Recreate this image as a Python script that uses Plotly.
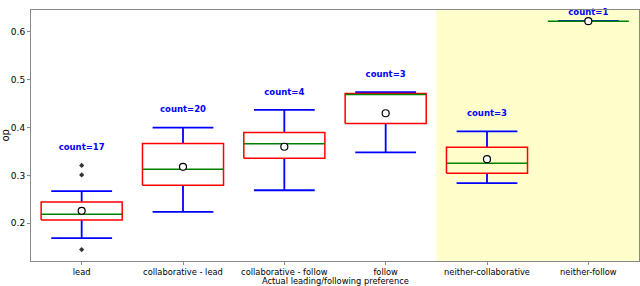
import plotly.graph_objects as go

categories = ["lead", "collaborative - lead", "collaborative - follow", "follow",
              "neither-collaborative", "neither-follow"]
counts = [17, 20, 4, 3, 3, 1]
q1 = [0.207, 0.2795, 0.336, 0.4085, 0.3046, 0.6226]
medians = [0.219, 0.313, 0.366, 0.469, 0.3255, 0.6226]
q3 = [0.2446, 0.3666, 0.390, 0.4715, 0.359, 0.6226]
whisker_low = [0.169, 0.2237, 0.269, 0.348, 0.284, 0.6226]
whisker_high = [0.267, 0.400, 0.437, 0.474, 0.392, 0.6226]
means = [0.226, 0.318, 0.360, 0.430, 0.334, 0.6226]
outlier_cat = [0, 0, 0]
outlier_val = [0.321, 0.301, 0.145]
label_y = [0.3575, 0.4364, 0.4726, 0.5096, 0.428, 0.639]

BOX_HALF = 0.4
CAP_HALF = 0.3
W, H = 640, 286
ML, MR, MT, MB = 31, 1, 10, 25

fig = go.Figure()

# shaded region for "neither" categories
fig.add_vrect(x0=3.5, x1=5.5, fillcolor="#FFFFCC", opacity=1, line_width=0, layer="below")

xs = list(range(len(categories)))

# whiskers (blue)
wx, wy = [], []
for i in xs:
    wx += [i, i, None, i - CAP_HALF, i + CAP_HALF, None,
           i, i, None, i - CAP_HALF, i + CAP_HALF, None]
    wy += [q3[i], whisker_high[i], None, whisker_high[i], whisker_high[i], None,
           q1[i], whisker_low[i], None, whisker_low[i], whisker_low[i], None]
fig.add_trace(go.Scatter(x=wx, y=wy, mode="lines",
                         line=dict(color="blue", width=1.8),
                         showlegend=False, hoverinfo="skip"))

# boxes (red rectangles from Q1 to Q3)
bx, by = [], []
for i in xs:
    if q3[i] > q1[i]:
        bx += [i - BOX_HALF, i + BOX_HALF, i + BOX_HALF, i - BOX_HALF, i - BOX_HALF, None]
        by += [q1[i], q1[i], q3[i], q3[i], q1[i], None]
fig.add_trace(go.Scatter(x=bx, y=by, mode="lines",
                         line=dict(color="red", width=1.5),
                         showlegend=False, hoverinfo="skip"))

# medians (green)
mx, my = [], []
for i in xs:
    mx += [i - BOX_HALF, i + BOX_HALF, None]
    my += [medians[i], medians[i], None]
fig.add_trace(go.Scatter(x=mx, y=my, mode="lines",
                         line=dict(color="green", width=1.5),
                         showlegend=False, hoverinfo="skip"))

# outliers
fig.add_trace(go.Scatter(x=outlier_cat, y=outlier_val, mode="markers",
                         marker=dict(symbol="diamond", size=4, color="#333333"),
                         showlegend=False))

# means
fig.add_trace(go.Scatter(x=xs, y=means, mode="markers",
                         marker=dict(symbol="circle", size=7, color="white",
                                     line=dict(color="black", width=1.2)),
                         showlegend=False))

# count labels
fig.add_trace(go.Scatter(x=xs, y=label_y, mode="text",
                         text=[f"<b>count={c}</b>" for c in counts],
                         textfont=dict(color="blue", size=8.5, family="DejaVu Sans"),
                         textposition="middle center", cliponaxis=False,
                         showlegend=False))

pw = W - ML - MR
ph = H - MT - MB
fig.update_layout(
    width=W, height=H,
    margin=dict(l=ML, r=MR, t=MT, b=MB),
    paper_bgcolor="white", plot_bgcolor="white",
    font=dict(family="DejaVu Sans", size=9, color="black"),
    annotations=[
        dict(text="Actual leading/following preference", xref="paper", yref="paper",
             x=0.5, y=-(281 - (H - MB)) / ph, xanchor="center", yanchor="middle",
             showarrow=False, font=dict(size=8.3)),
        dict(text="op", xref="paper", yref="paper",
             x=-(ML - 5) / pw, y=0.5, xanchor="center", yanchor="middle",
             textangle=-90, showarrow=False, font=dict(size=10)),
    ],
)
fig.update_xaxes(range=[-0.5, 5.5], tickvals=xs, ticktext=categories,
                 tickangle=0, tickfont=dict(size=8.3), automargin=False,
                 showgrid=False, zeroline=False, showline=True, mirror=True,
                 linecolor="#888888", linewidth=1, ticks="outside", ticklen=3,
                 tickcolor="#888888")
fig.update_yaxes(range=[0.121, 0.646], tickvals=[0.2, 0.3, 0.4, 0.5, 0.6],
                 ticktext=["0.2", "0.3", "0.4", "0.5", "0.6"],
                 tickfont=dict(size=9), automargin=False,
                 showgrid=False, zeroline=False, showline=True, mirror=True,
                 linecolor="#888888", linewidth=1, ticks="outside", ticklen=3,
                 tickcolor="#888888")

fig.write_html("out.html", config={"displayModeBar": False},
               post_script="document.body.style.margin='0';document.body.style.overflow='hidden';")
